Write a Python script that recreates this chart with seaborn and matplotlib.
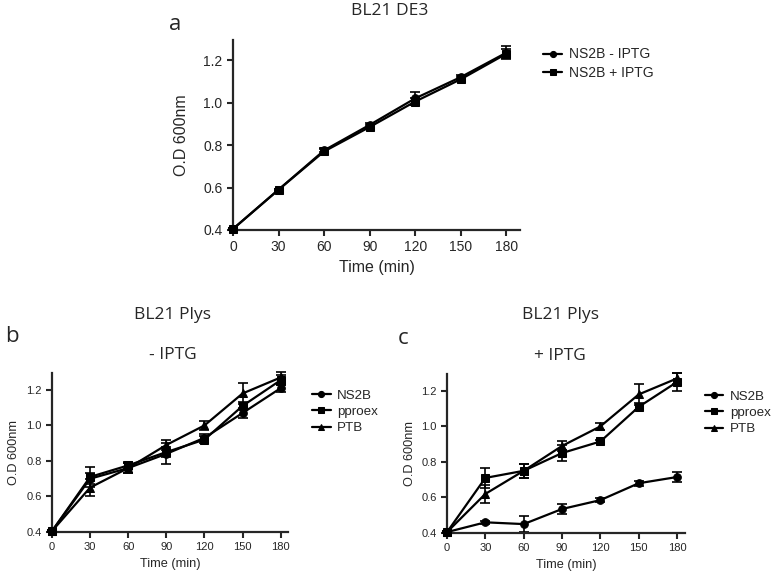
import numpy as np
import pandas as pd
import matplotlib
matplotlib.use('Agg')
import matplotlib.pyplot as plt
import seaborn as sns

# time points (min)
time = [0, 30, 60, 90, 120, 150, 180]

# panel a - BL21 DE3
a_minus = [0.405, 0.59, 0.775, 0.895, 1.02, 1.12, 1.235]
a_minus_err = [0.005, 0.005, 0.01, 0.01, 0.03, 0.01, 0.03]
a_plus = [0.405, 0.59, 0.77, 0.885, 1.005, 1.11, 1.23]
a_plus_err = [0.005, 0.005, 0.01, 0.01, 0.015, 0.01, 0.02]

# panel b - BL21 Plys, - IPTG
b_ns2b = [0.405, 0.70, 0.76, 0.84, 0.93, 1.07, 1.21]
b_ns2b_err = [0.005, 0.03, 0.03, 0.06, 0.02, 0.03, 0.02]
b_pproex = [0.405, 0.71, 0.775, 0.85, 0.92, 1.11, 1.255]
b_pproex_err = [0.005, 0.055, 0.02, 0.03, 0.02, 0.02, 0.03]
b_ptb = [0.405, 0.65, 0.76, 0.89, 1.00, 1.18, 1.27]
b_ptb_err = [0.005, 0.05, 0.03, 0.03, 0.025, 0.06, 0.03]

# panel c - BL21 Plys, + IPTG
c_ns2b = [0.405, 0.46, 0.45, 0.535, 0.585, 0.68, 0.715]
c_ns2b_err = [0.005, 0.01, 0.045, 0.03, 0.01, 0.015, 0.03]
c_pproex = [0.405, 0.71, 0.75, 0.85, 0.915, 1.11, 1.25]
c_pproex_err = [0.005, 0.055, 0.04, 0.045, 0.01, 0.02, 0.05]
c_ptb = [0.405, 0.62, 0.75, 0.89, 1.00, 1.18, 1.27]
c_ptb_err = [0.005, 0.05, 0.04, 0.03, 0.02, 0.06, 0.03]

sns.set_style('ticks')
plt.rcParams['font.family'] = ['Liberation Sans', 'DejaVu Sans']

fig = plt.figure(figsize=(7.78, 5.76), dpi=100)


def draw_panel(ax, series, xmax, tick_fs, label_fs, leg_fs, leg_anchor, ypad):
    for label, vals, errs, marker in series:
        df = pd.DataFrame({'time': time, 'od': vals})
        sns.lineplot(data=df, x='time', y='od', ax=ax, color='black', marker=marker,
                     markersize=5.5, markeredgecolor='black', linewidth=1.6, label=label,
                     clip_on=False, zorder=3)
        ax.errorbar(time, vals, yerr=errs, fmt='none', ecolor='black', elinewidth=1.2,
                    capsize=3.5, capthick=1.2, clip_on=False, zorder=2)
    ax.set_xlim(0, xmax)
    ax.set_ylim(0.4, 1.295)
    ax.set_xticks(time)
    ax.set_yticks([0.4, 0.6, 0.8, 1.0, 1.2])
    ax.set_yticklabels(['0.4', '0.6', '0.8', '1.0', '1.2'])
    ax.tick_params(labelsize=tick_fs, width=1.5, length=4, direction='out')
    ax.set_xlabel('Time (min)', fontsize=label_fs)
    ax.set_ylabel('O.D 600nm', fontsize=label_fs, labelpad=ypad)
    for side in ['left', 'bottom']:
        ax.spines[side].set_linewidth(1.6)
    sns.despine(ax=ax)
    ax.legend(loc='upper left', bbox_to_anchor=leg_anchor, frameon=False,
              fontsize=leg_fs, handlelength=1.4, handletextpad=0.5, labelspacing=0.3,
              borderaxespad=0, markerscale=0.8)


ax_a = fig.add_axes([0.2995, 0.6007, 0.369, 0.330])
draw_panel(ax_a, [('NS2B - IPTG', a_minus, a_minus_err, 'o'),
                  ('NS2B + IPTG', a_plus, a_plus_err, 's')],
           189, 10, 11.5, 10, (1.06, 0.99), 10)

ax_b = fig.add_axes([0.0668, 0.0764, 0.303, 0.276])
draw_panel(ax_b, [('NS2B', b_ns2b, b_ns2b_err, 'o'),
                  ('pproex', b_pproex, b_pproex_err, 's'),
                  ('PTB', b_ptb, b_ptb_err, '^')],
           185.5, 8, 9.2, 9.6, (1.08, 0.93), 4)

ax_c = fig.add_axes([0.5746, 0.0747, 0.306, 0.276])
draw_panel(ax_c, [('NS2B', c_ns2b, c_ns2b_err, 'o'),
                  ('pproex', c_pproex, c_pproex_err, 's'),
                  ('PTB', c_ptb, c_ptb_err, '^')],
           186.3, 8, 9.2, 9.6, (1.06, 0.93), 4)

# titles and panel letters
title_font = ['Open Sans', 'DejaVu Sans']
fig.text(390 / 778, 1 - 11 / 576, 'BL21 DE3', ha='center', va='center', fontsize=12.5, family=title_font)
fig.text(175 / 778, 1 - 24 / 576, 'a', ha='center', va='center', fontsize=16, family=title_font)
fig.text(173 / 778, 1 - 315 / 576, 'BL21 Plys', ha='center', va='center', fontsize=12.5, family=title_font)
fig.text(12 / 778, 1 - 337 / 576, 'b', ha='center', va='center', fontsize=16, family=title_font)
fig.text(173 / 778, 1 - 355 / 576, '- IPTG', ha='center', va='center', fontsize=12.5, family=title_font)
fig.text(560 / 778, 1 - 315 / 576, 'BL21 Plys', ha='center', va='center', fontsize=12.5, family=title_font)
fig.text(403 / 778, 1 - 338 / 576, 'c', ha='center', va='center', fontsize=16, family=title_font)
fig.text(560 / 778, 1 - 356 / 576, '+ IPTG', ha='center', va='center', fontsize=12.5, family=title_font)

fig.savefig('out.png', dpi=100)
